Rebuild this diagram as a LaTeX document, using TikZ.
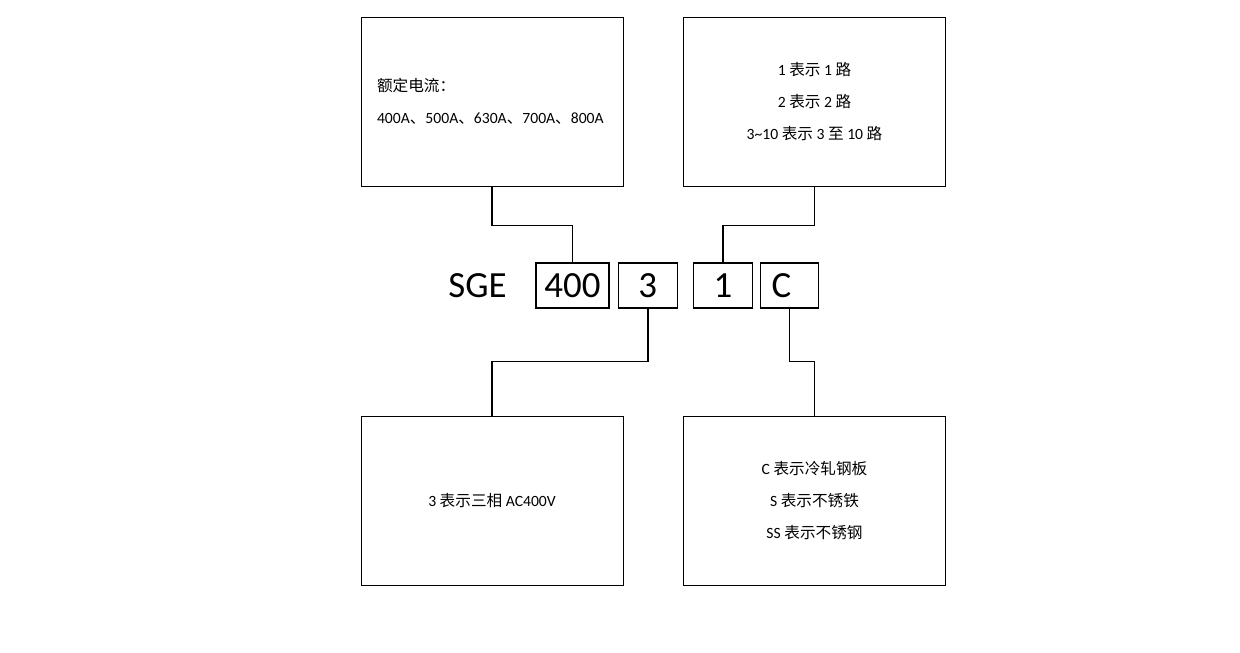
\documentclass[tikz,border=0pt]{standalone}
\usepackage{fontspec}
\setmainfont{Carlito}
\newfontfamily\cjk{Noto Sans CJK SC}
\newcommand{\zh}[1]{{\cjk #1}}
\usetikzlibrary{positioning}

\begin{document}
\begin{tikzpicture}[
    node distance=0.16cm,
    infobox/.style={rectangle, draw, line width=0.5pt, minimum width=5.24cm, minimum height=3.38cm,
        font=\fontsize{8.9}{18.1}\selectfont},
    codebox/.style={rectangle, draw, line width=0.7pt, minimum height=0.9cm, inner sep=0pt,
        font=\fontsize{21}{24}\selectfont},
    link/.style={line width=0.9pt}
]
    \useasboundingbox (0,0) rectangle (24.8,13.06);

    % description boxes
    \node[infobox, text width=4.6cm, inner xsep=0.32cm, align=left] (rated) at (9.84,11.03)
        {\zh{额定电流：}\\400A\zh{、}500A\zh{、}630A\zh{、}700A\zh{、}800A};
    \node[infobox, align=center] (ways) at (16.29,11.03)
        {1 \zh{表示} 1 \zh{路}\\2 \zh{表示} 2 \zh{路}\\3\textasciitilde10 \zh{表示} 3 \zh{至} 10 \zh{路}};
    \node[infobox, align=center] (phase) at (9.84,3.05)
        {3 \zh{表示三相} AC400V};
    \node[infobox, align=center] (material) at (16.29,3.05)
        {C \zh{表示冷轧钢板}\\S \zh{表示不锈铁}\\SS \zh{表示不锈钢}};

    % model code
    \node[font=\fontsize{21}{24}\selectfont] (sge) at (9.55,7.35) {SGE};
    \node[codebox, minimum width=1.46cm] (n400) at (11.45,7.35) {400};
    \node[codebox, minimum width=1.18cm] (n3) [right=of n400] {3};
    \node[codebox, minimum width=1.18cm] (n1) [right=0.3cm of n3] {1};
    \node[codebox, text width=0.72cm, inner xsep=0.22cm, minimum width=1.16cm, align=left] (nC) [right=0.14cm of n1] {C};

    % connectors
    \draw[link] (rated.south) -- ++(0,-0.78) -| (n400.north);
    \draw[link] (ways.south) -- ++(0,-0.78) -| (n1.north);
    \draw[link] (n3.south) -- ++(0,-1.06) -| (phase.north);
    \draw[link] (nC.south) -- ++(0,-1.06) -| (material.north);
\end{tikzpicture}
\end{document}
